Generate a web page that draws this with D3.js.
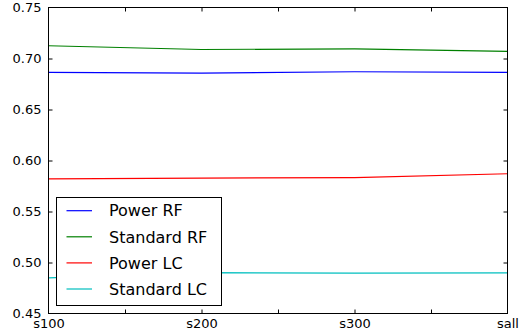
<!DOCTYPE html>
<html><head><meta charset="utf-8">
<script src="https://cdn.jsdelivr.net/npm/d3@7"></script>
<style>body{margin:0;background:#fff}svg{display:block}text{font-family:"DejaVu Sans",sans-serif}</style>
</head><body><svg id="c" width="520" height="332"></svg>
<script>
const categories = ["s100","s200","s300","sall"];
const powerRF = [0.6863, 0.6856, 0.6870, 0.6863];
const standardRF = [0.7125, 0.7088, 0.7095, 0.7069];
const powerLC = [0.5819, 0.5828, 0.5833, 0.5870];
const standardLC = [0.4850, 0.4900, 0.4895, 0.4899];
const seriesNames = ["Power RF","Standard RF","Power LC","Standard LC"];
const seriesColors = ["#0000ff","#008000","#ff0000","#00bfbf"];
const yTicks = [0.45,0.50,0.55,0.60,0.65,0.70,0.75];
const xTicks = [0,0.5,1,1.5,2,2.5,3];
const series = [powerRF, standardRF, powerLC, standardLC];

const svg = d3.select("#c");
const L=48.5, R=507.5, T=7.5, B=313.5;
const x = d3.scaleLinear().domain([0,3]).range([L,R]);
const y = d3.scaleLinear().domain([0.45,0.75]).range([B,T]);

const line = d3.line().x((d,i)=>x(i)).y(d=>y(d));
series.forEach((s,k)=>{
  svg.append("path").datum(s).attr("d",line).attr("fill","none")
    .attr("stroke",seriesColors[k]).attr("stroke-width",1.2);
});

// frame
svg.append("rect").attr("x",L).attr("y",T).attr("width",R-L).attr("height",B-T)
  .attr("fill","none").attr("stroke","#000").attr("stroke-width",1);

const tk = 4;
const yAxisL = d3.axisLeft(y).tickValues(yTicks).tickSizeInner(-tk).tickSizeOuter(0).tickPadding(7).tickFormat(d3.format(".2f"));
const gl = svg.append("g").attr("transform",`translate(${L},0)`).call(yAxisL);
const yAxisR = d3.axisRight(y).tickValues(yTicks).tickSizeInner(-tk).tickSizeOuter(0).tickFormat("");
const gr = svg.append("g").attr("transform",`translate(${R},0)`).call(yAxisR);
const xAxisB = d3.axisBottom(x).tickValues(xTicks).tickSizeInner(-tk).tickSizeOuter(0).tickPadding(5.5)
  .tickFormat(d=>Number.isInteger(d)?categories[d]:"");
const gb = svg.append("g").attr("transform",`translate(0,${B})`).call(xAxisB);
const xAxisT = d3.axisTop(x).tickValues(xTicks).tickSizeInner(-tk).tickSizeOuter(0).tickFormat("");
const gt = svg.append("g").attr("transform",`translate(0,${T})`).call(xAxisT);
[gl,gr,gb,gt].forEach(g=>{
  g.select(".domain").remove();
  g.selectAll("text").attr("font-size",13).attr("font-family","DejaVu Sans").attr("fill","#000");
  g.selectAll("line").attr("stroke","#000");
});
gb.selectAll(".tick").filter(d=>d===0||d===3).select("line").remove();
gt.selectAll(".tick").filter(d=>d===0||d===3).select("line").remove();
gl.selectAll(".tick").filter(d=>d===0.45||d===0.75).select("line").remove();
gr.selectAll(".tick").filter(d=>d===0.45||d===0.75).select("line").remove();

// legend
const lg = svg.append("g");
lg.append("rect").attr("x",56.5).attr("y",197.5).attr("width",165).attr("height",108)
  .attr("fill","#fff").attr("stroke","#000").attr("stroke-width",1);
seriesNames.forEach((n,i)=>{
  const cy = 210.7 + i*26.1;
  lg.append("line").attr("x1",66.5).attr("x2",92).attr("y1",cy).attr("y2",cy)
    .attr("stroke",seriesColors[i]).attr("stroke-width",1.2);
  lg.append("text").attr("x",109).attr("y",cy).attr("dy","0.36em")
    .attr("font-size",16).text(n);
});
</script></body></html>
